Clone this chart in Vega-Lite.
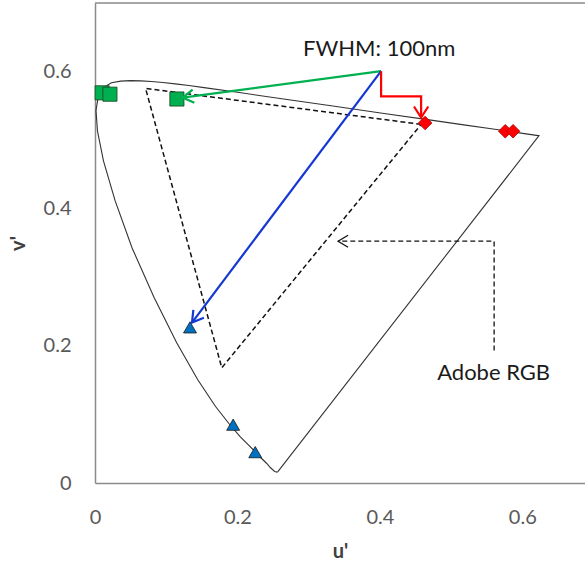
{
  "$schema": "https://vega.github.io/schema/vega-lite/v6.json",
  "width": 490,
  "height": 480,
  "autosize": {"type": "none"},
  "padding": {"left": 95, "top": 3, "right": 0, "bottom": 81},
  "background": "white",
  "config": {"view": {"stroke": null}, "font": "Lato"},
  "datasets": {
    "locus": [
      {"i": 1, "u": 0.2568, "v": 0.0166}, {"i": 2, "u": 0.2557, "v": 0.0159}, {"i": 3, "u": 0.2522, "v": 0.0169},
      {"i": 4, "u": 0.2461, "v": 0.0226}, {"i": 5, "u": 0.2408, "v": 0.0288}, {"i": 6, "u": 0.2347, "v": 0.0350},
      {"i": 7, "u": 0.2266, "v": 0.0437}, {"i": 8, "u": 0.2161, "v": 0.0549}, {"i": 9, "u": 0.2037, "v": 0.0677},
      {"i": 10, "u": 0.1877, "v": 0.0871}, {"i": 11, "u": 0.1690, "v": 0.1119}, {"i": 12, "u": 0.1441, "v": 0.1510},
      {"i": 13, "u": 0.1147, "v": 0.2044}, {"i": 14, "u": 0.0828, "v": 0.2708}, {"i": 15, "u": 0.0521, "v": 0.3427},
      {"i": 16, "u": 0.0282, "v": 0.4117}, {"i": 17, "u": 0.0119, "v": 0.4698}, {"i": 18, "u": 0.0035, "v": 0.5131},
      {"i": 19, "u": 0.0014, "v": 0.5432}, {"i": 20, "u": 0.0046, "v": 0.5638}, {"i": 21, "u": 0.0123, "v": 0.5770},
      {"i": 22, "u": 0.0231, "v": 0.5837}, {"i": 23, "u": 0.0360, "v": 0.5861}, {"i": 24, "u": 0.0501, "v": 0.5868},
      {"i": 25, "u": 0.0643, "v": 0.5865}, {"i": 26, "u": 0.0792, "v": 0.5856}, {"i": 27, "u": 0.0953, "v": 0.5841},
      {"i": 28, "u": 0.1127, "v": 0.5821}, {"i": 29, "u": 0.1319, "v": 0.5796}, {"i": 30, "u": 0.1531, "v": 0.5766},
      {"i": 31, "u": 0.2026, "v": 0.5694}, {"i": 32, "u": 0.2623, "v": 0.5604}, {"i": 33, "u": 0.3315, "v": 0.5501},
      {"i": 34, "u": 0.4035, "v": 0.5393}, {"i": 35, "u": 0.4692, "v": 0.5296}, {"i": 36, "u": 0.5203, "v": 0.5219},
      {"i": 37, "u": 0.5565, "v": 0.5165}, {"i": 38, "u": 0.5830, "v": 0.5125}, {"i": 39, "u": 0.6005, "v": 0.5099},
      {"i": 40, "u": 0.6199, "v": 0.5070}, {"i": 41, "u": 0.6234, "v": 0.5065}, {"i": 42, "u": 0.2568, "v": 0.0166}
    ],
    "adobe": [
      {"i": 1, "u": 0.458, "v": 0.523}, {"i": 2, "u": 0.071, "v": 0.5755},
      {"i": 3, "u": 0.178, "v": 0.168}, {"i": 4, "u": 0.458, "v": 0.523}
    ],
    "callout": [
      {"i": 1, "u": 0.5604, "v": 0.1934}, {"i": 2, "u": 0.5604, "v": 0.3526}, {"i": 3, "u": 0.3413, "v": 0.3526}
    ],
    "markers": [
      {"s": "G", "u": 0.010, "v": 0.569}, {"s": "G", "u": 0.021, "v": 0.567}, {"s": "G", "u": 0.115, "v": 0.560},
      {"s": "R", "u": 0.4635, "v": 0.525}, {"s": "R", "u": 0.576, "v": 0.513}, {"s": "R", "u": 0.587, "v": 0.513},
      {"s": "B", "u": 0.1334, "v": 0.227}, {"s": "B", "u": 0.194, "v": 0.085}, {"s": "B", "u": 0.225, "v": 0.045}
    ],
    "green": [{"i": 1, "u": 0.4017, "v": 0.6006}, {"i": 2, "u": 0.123, "v": 0.562}],
    "blue": [{"i": 1, "u": 0.4017, "v": 0.6006}, {"i": 2, "u": 0.1362, "v": 0.234}],
    "red": [
      {"i": 1, "u": 0.4017, "v": 0.6006}, {"i": 2, "u": 0.4017, "v": 0.5637},
      {"i": 3, "u": 0.4579, "v": 0.5637}, {"i": 4, "u": 0.4579, "v": 0.533}
    ]
  },
  "encoding": {
    "x": {
      "field": "u", "type": "quantitative",
      "scale": {"domain": [0, 0.688], "nice": false},
      "axis": {
        "values": [0, 0.2, 0.4, 0.6], "format": "~g", "title": "u'", "labelFlush": false,
        "domainColor": "#8a8a8a", "domainWidth": 1.5, "ticks": false, "grid": false,
        "labelFont": "Lato", "labelFontSize": 20, "labelColor": "#595959", "labelPadding": 24,
        "titleFont": "Lato", "titleFontSize": 20, "titleFontWeight": "bold", "titleColor": "#404040", "titlePadding": 14
      }
    },
    "y": {
      "field": "v", "type": "quantitative",
      "scale": {"domain": [0, 0.7], "nice": false},
      "axis": {
        "values": [0, 0.2, 0.4, 0.6], "format": "~g", "title": "v'", "labelFlush": false,
        "domainColor": "#8a8a8a", "domainWidth": 1.5, "ticks": false, "grid": false,
        "labelFont": "Lato", "labelFontSize": 20, "labelColor": "#595959", "labelPadding": 24,
        "titleFont": "Lato", "titleFontSize": 20, "titleFontWeight": "bold", "titleColor": "#404040", "titlePadding": 15
      }
    }
  },
  "layer": [
    {
      "data": {"name": "locus"},
      "mark": {"type": "line", "color": "#333333", "strokeWidth": 1.1},
      "encoding": {"order": {"field": "i"}}
    },
    {
      "data": {"name": "adobe"},
      "mark": {"type": "line", "color": "#111111", "strokeWidth": 1.5, "strokeDash": [5, 3]},
      "encoding": {"order": {"field": "i"}}
    },
    {
      "data": {"name": "callout"},
      "mark": {"type": "line", "color": "#111111", "strokeWidth": 1.3, "strokeDash": [5, 3]},
      "encoding": {"order": {"field": "i"}}
    },
    {
      "data": {"name": "callout"},
      "transform": [{"filter": "datum.i == 3"}],
      "mark": {"type": "point", "shape": "M-1,-0.6L0,0L-1,0.6", "filled": false, "stroke": "#111111", "strokeWidth": 1.3, "size": 400, "angle": 180, "opacity": 1}
    },
    {
      "data": {"name": "markers"},
      "mark": {"type": "point", "filled": true, "opacity": 1, "strokeWidth": 0.8},
      "encoding": {
        "shape": {"field": "s", "type": "nominal", "scale": {"domain": ["G", "R", "B"], "range": ["square", "diamond", "triangle-up"]}, "legend": null},
        "fill": {"field": "s", "type": "nominal", "scale": {"domain": ["G", "R", "B"], "range": ["#00B050", "#FF0000", "#0070C0"]}, "legend": null},
        "stroke": {"field": "s", "type": "nominal", "scale": {"domain": ["G", "R", "B"], "range": ["#1f3f1f", "#a00000", "#1a1a1a"]}, "legend": null},
        "size": {"field": "s", "type": "nominal", "scale": {"domain": ["G", "R", "B"], "range": [200, 169, 225]}, "legend": null}
      }
    },
    {
      "data": {"name": "green"},
      "mark": {"type": "line", "color": "#00B050", "strokeWidth": 2.2},
      "encoding": {"order": {"field": "i"}}
    },
    {
      "data": {"name": "green"},
      "transform": [{"filter": "datum.i == 2"}],
      "mark": {"type": "point", "shape": "M-1,-0.6L0,0L-1,0.6", "filled": false, "stroke": "#00B050", "strokeWidth": 2.2, "size": 484, "angle": 172.4, "opacity": 1}
    },
    {
      "data": {"name": "blue"},
      "mark": {"type": "line", "color": "#1438d4", "strokeWidth": 2.2},
      "encoding": {"order": {"field": "i"}}
    },
    {
      "data": {"name": "blue"},
      "transform": [{"filter": "datum.i == 2"}],
      "mark": {"type": "point", "shape": "M-1,-0.6L0,0L-1,0.6", "filled": false, "stroke": "#1438d4", "strokeWidth": 2.2, "size": 484, "angle": 127, "opacity": 1}
    },
    {
      "data": {"name": "red"},
      "mark": {"type": "line", "color": "#FF0000", "strokeWidth": 2.2},
      "encoding": {"order": {"field": "i"}}
    },
    {
      "data": {"name": "red"},
      "transform": [{"filter": "datum.i == 4"}],
      "mark": {"type": "point", "shape": "M-1,-0.65L0,0L-1,0.65", "filled": false, "stroke": "#FF0000", "strokeWidth": 2.2, "size": 484, "angle": 90, "opacity": 1}
    },
    {
      "data": {"values": [{"u": 0.399, "v": 0.633, "label": "FWHM: 100nm"}]},
      "mark": {"type": "text", "font": "Lato", "fontSize": 22, "color": "#1a1a1a", "align": "center", "baseline": "middle"},
      "encoding": {"text": {"field": "label"}}
    },
    {
      "data": {"values": [{"u": 0.5597, "v": 0.161, "label": "Adobe RGB"}]},
      "mark": {"type": "text", "font": "Lato", "fontSize": 22, "color": "#1a1a1a", "align": "center", "baseline": "middle"},
      "encoding": {"text": {"field": "label"}}
    },
    {
      "data": {"values": [{"top": 0.7}]},
      "mark": {"type": "rule", "color": "#8a8a8a", "strokeWidth": 1.5},
      "encoding": {"y": {"field": "top", "type": "quantitative"}, "x": null}
    }
  ]
}
